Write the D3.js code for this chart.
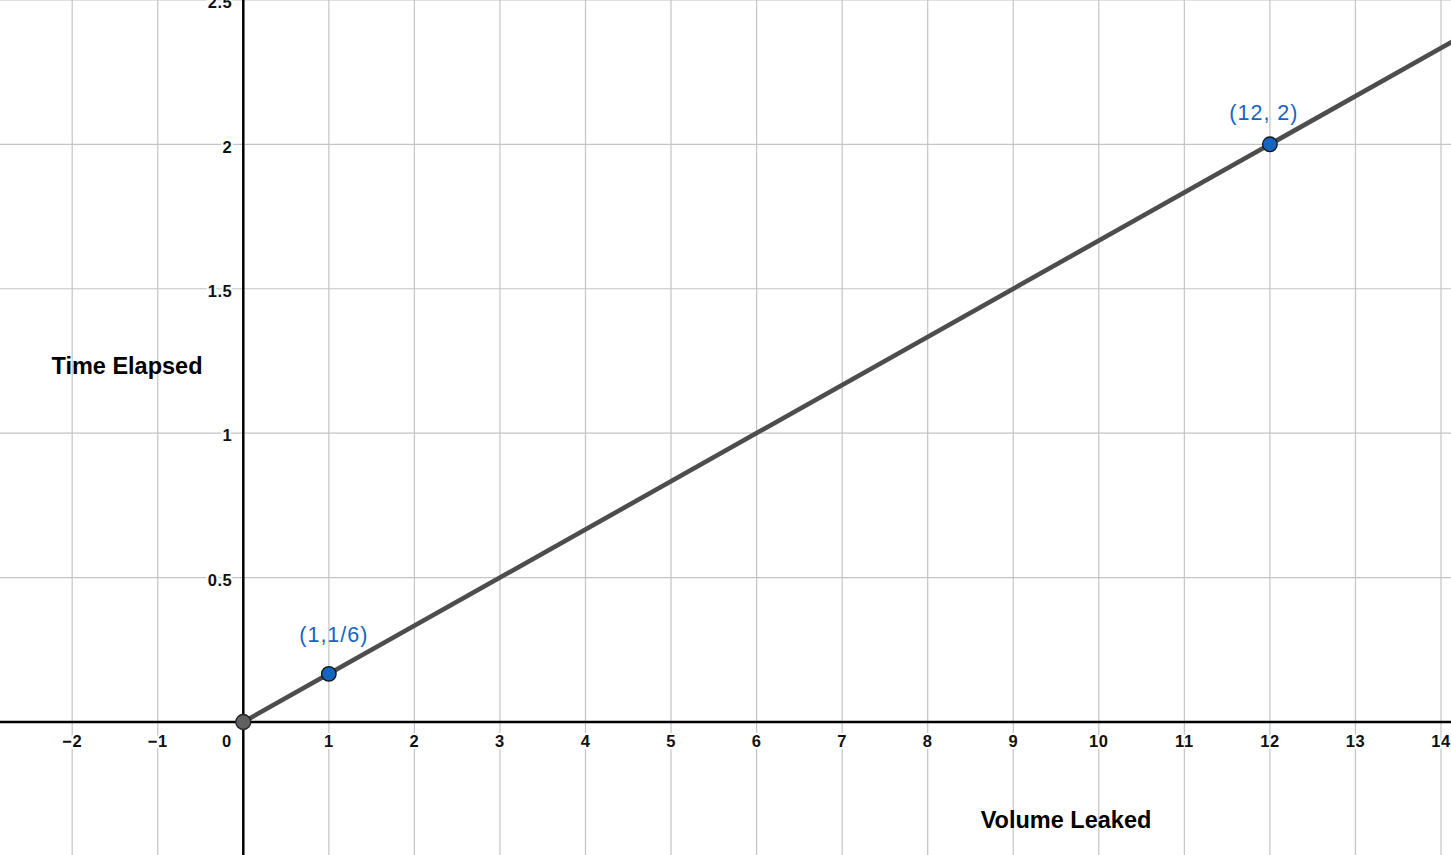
<!DOCTYPE html>
<html>
<head>
<meta charset="utf-8">
<script src="https://cdn.jsdelivr.net/npm/d3@7"></script>
<style>
html,body{margin:0;padding:0;background:#fff;overflow:hidden;}
svg{display:block;}
</style>
</head>
<body>
<svg id="chart" width="1451" height="855"></svg>
<script>
const xTicks = [-2,-1,0,1,2,3,4,5,6,7,8,9,10,11,12,13,14];
const yTicks = [0.5,1,1.5,2,2.5];
const xTickLabels = ["\u22122","\u22121","0","1","2","3","4","5","6","7","8","9","10","11","12","13","14"];
const yTickLabels = ["0.5","1","1.5","2","2.5"];
const pointX = [1,12];
const pointY = [1/6,2];
const pointLabels = ["(1,1/6)","(12, 2)"];
const lineX = [0,14.3];
const lineY = [0,14.3/6];
const xTitle = "Volume Leaked";
const yTitle = "Time Elapsed";

const W = 1451, H = 855;
const x0 = 243.3, ux = 85.55, y0 = 722, uy = 288.85;
const x = d3.scaleLinear().domain([-x0/ux,(W-x0)/ux]).range([0,W]);
const y = d3.scaleLinear().domain([(y0-H)/uy, y0/uy]).range([H,0]);
const svg = d3.select("#chart");
const FONT = "Liberation Sans, Arial, sans-serif";

// grid
svg.append("g").selectAll("line").data(xTicks.filter(d=>d!==0)).join("line")
  .attr("x1",d=>x(d)).attr("x2",d=>x(d)).attr("y1",0).attr("y2",H)
  .attr("stroke","#c4c4c4").attr("stroke-width",1.2);
svg.append("g").selectAll("line").data(yTicks).join("line")
  .attr("x1",0).attr("x2",W).attr("y1",d=>y(d)).attr("y2",d=>y(d))
  .attr("stroke","#c4c4c4").attr("stroke-width",1.2);

// axes
svg.append("line").attr("x1",0).attr("x2",W).attr("y1",y(0)).attr("y2",y(0))
  .attr("stroke","#000").attr("stroke-width",2.5);
svg.append("line").attr("x1",x(0)).attr("x2",x(0)).attr("y1",0).attr("y2",H)
  .attr("stroke","#000").attr("stroke-width",2.5);

const lblStyle = sel => sel.attr("font-family",FONT)
  .attr("font-size",16.5).attr("font-weight","bold").attr("letter-spacing","0.5px")
  .attr("fill","#111")
  .attr("stroke","#fff").attr("stroke-width",4).attr("paint-order","stroke")
  .attr("stroke-linejoin","round");

// x tick labels
svg.append("g").selectAll("text").data(xTicks).join("text")
  .attr("x",(d)=>d===0 ? x(0)-16.5 : x(d))
  .attr("y",y(0)+25)
  .attr("text-anchor","middle")
  .text((d,i)=>xTickLabels[i]).call(lblStyle);

// y tick labels
svg.append("g").selectAll("text").data(yTicks).join("text")
  .attr("x",x(0)-11).attr("y",d=>y(d)+8.3)
  .attr("text-anchor","end")
  .text((d,i)=>yTickLabels[i]).call(lblStyle);

// line
svg.append("path")
  .datum(lineX.map((v,i)=>[v,lineY[i]]))
  .attr("d",d3.line().x(d=>x(d[0])).y(d=>y(d[1])))
  .attr("stroke","#4d4d4d").attr("stroke-width",4.6).attr("fill","none");

// origin point
svg.append("circle").attr("cx",x(0)).attr("cy",y(0)).attr("r",7.5)
  .attr("fill","#616161").attr("stroke","#222").attr("stroke-width",1.3);

// points
svg.append("g").selectAll("circle").data(pointX).join("circle")
  .attr("cx",d=>x(d)).attr("cy",(d,i)=>y(pointY[i])).attr("r",7.3)
  .attr("fill","#1565c0").attr("stroke","#111").attr("stroke-width",1.3);

svg.append("g").selectAll("text").data(pointX).join("text")
  .attr("x",(d,i)=>x(d)+(i===0?5:-6))
  .attr("y",(d,i)=>y(pointY[i])-(i===0?31.5:24))
  .attr("text-anchor","middle")
  .attr("font-family",FONT).attr("letter-spacing","1px")
  .attr("font-size",21.5).attr("fill","#1565c0")
  .text((d,i)=>pointLabels[i]);

// axis titles
svg.append("text").attr("x",1066).attr("y",828).attr("text-anchor","middle")
  .attr("font-family",FONT).attr("font-weight","bold")
  .attr("font-size",23.5).attr("fill","#000").text(xTitle);
svg.append("text").attr("x",127).attr("y",374).attr("text-anchor","middle")
  .attr("font-family",FONT).attr("font-weight","bold")
  .attr("font-size",23.5).attr("fill","#000").text(yTitle);
</script>
</body>
</html>
